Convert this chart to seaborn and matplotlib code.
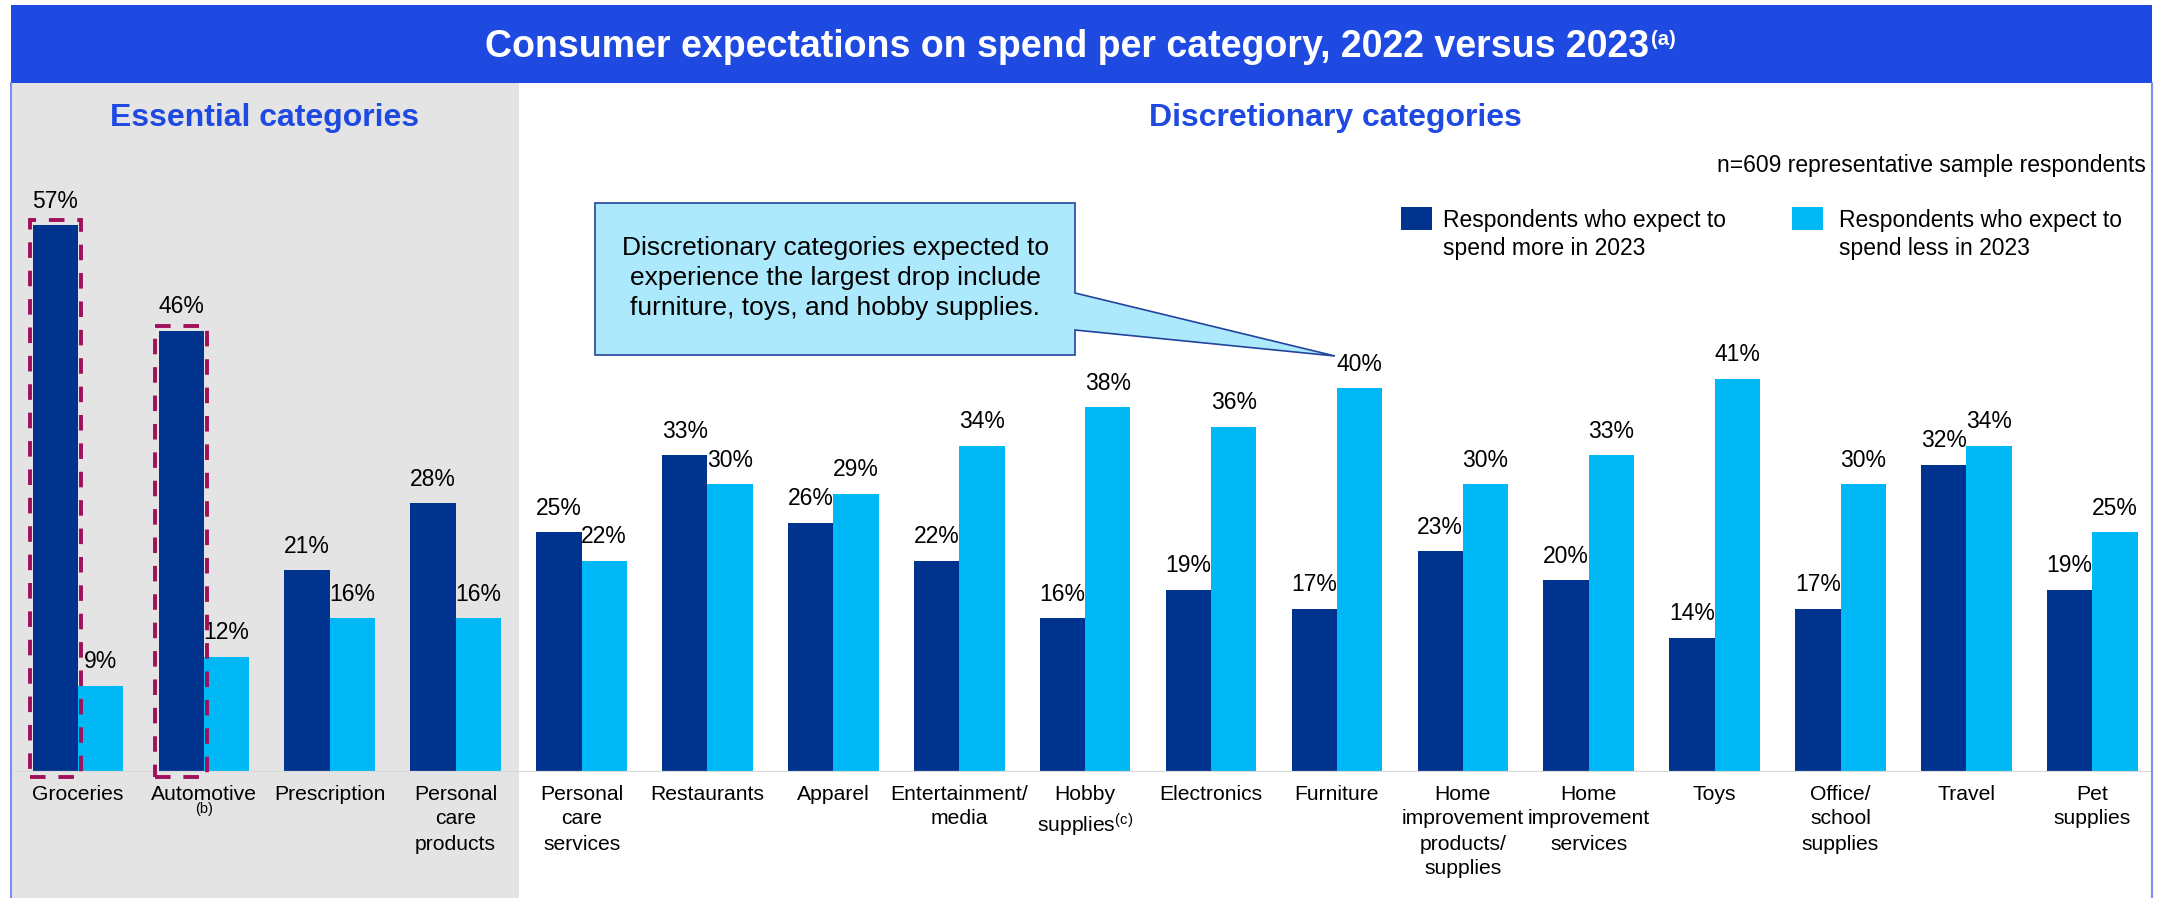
import numpy as np
import pandas as pd
import matplotlib
matplotlib.use("Agg")
import matplotlib.pyplot as plt
import seaborn as sns
from matplotlib.patches import Rectangle, Polygon
from matplotlib.transforms import blended_transform_factory
from matplotlib.lines import Line2D

# ---------------- data ----------------
categories = ["Groceries", "Automotive", "Prescription", "Personal care products",
              "Personal care services", "Restaurants", "Apparel", "Entertainment/media",
              "Hobby supplies", "Electronics", "Furniture",
              "Home improvement products/supplies", "Home improvement services",
              "Toys", "Office/school supplies", "Travel", "Pet supplies"]
tick_labels = ["Groceries", "Automotive", "Prescription", "Personal\ncare\nproducts",
               "Personal\ncare\nservices", "Restaurants", "Apparel", "Entertainment/\nmedia",
               "Hobby\nsupplies$^{\\mathrm{(c)}}$", "Electronics", "Furniture",
               "Home\nimprovement\nproducts/\nsupplies", "Home\nimprovement\nservices",
               "Toys", "Office/\nschool\nsupplies", "Travel", "Pet\nsupplies"]
more_2023 = [57, 46, 21, 28, 25, 33, 26, 22, 16, 19, 17, 23, 20, 14, 17, 32, 19]
less_2023 = [9, 12, 16, 16, 22, 30, 29, 34, 38, 36, 40, 30, 33, 41, 30, 34, 25]
series_names = ["Respondents who expect to\nspend more in 2023",
                "Respondents who expect to\nspend less in 2023"]
n_essential = 4
highlighted = ["Groceries", "Automotive"]
title_main = "Consumer expectations on spend per category, 2022 versus 2023"
title_note = "(a)"
group_titles = ["Essential categories", "Discretionary categories"]
sample_note = "n=609 representative sample respondents"
callout_text = ("Discretionary categories expected to\n"
                "experience the largest drop include\n"
                "furniture, toys, and hobby supplies.")

# ---------------- style ----------------
DARK = "#00338D"
LIGHT = "#00B8F5"
BLUE = "#1F4AE2"
GRAY = "#E4E4E4"
MAROON = "#A0105A"
CALLOUT_FILL = "#ADE9FC"
CALLOUT_EDGE = "#23449E"
BORDER = "#7C8DF2"

sns.set_theme(style="white")
plt.rcParams["font.family"] = ["Liberation Sans", "DejaVu Sans"]
plt.rcParams["mathtext.fontset"] = "custom"
plt.rcParams["mathtext.rm"] = "Liberation Sans"
plt.rcParams["mathtext.bf"] = "Liberation Sans:bold"
plt.rcParams["mathtext.it"] = "Liberation Sans:italic"

W, H = 2158, 898
fig = plt.figure(figsize=(W / 100, H / 100), dpi=100)
fig.patch.set_facecolor("white")


def fx(px):
    return px / W


def fy(py):
    return 1 - py / H


ax = fig.add_axes([fx(11), fy(772), fx(2151) - fx(11), fy(83) - fy(772)])
ax.set_facecolor("white")

df = pd.DataFrame({
    "category": categories * 2,
    "value": more_2023 + less_2023,
    "series": [series_names[0]] * len(categories) + [series_names[1]] * len(categories),
})

sns.barplot(data=df, x="category", y="value", hue="series", order=categories,
            hue_order=series_names, palette=[DARK, LIGHT], width=0.72, gap=0,
            saturation=1, ax=ax, legend=False, linewidth=0, errorbar=None)

xmin, xmax = -0.532, len(categories) - 1 + 0.466
ax.set_xlim(xmin, xmax)
ax.set_ylim(0, 71.8)
for sp in ax.spines.values():
    sp.set_visible(False)
ax.set_yticks([])
ax.set_xlabel("")
ax.set_ylabel("")

# gray "essential" panel, from below the title bar to the bottom of the figure
blend = blended_transform_factory(ax.transData, fig.transFigure)
ax.add_patch(Rectangle((xmin, 0), n_essential - 0.5 - xmin, fy(83), transform=blend,
                       facecolor=GRAY, edgecolor="none", clip_on=False, zorder=0))

# baseline
ax.axhline(0, xmin=(16 - 11) / (2151 - 11), xmax=1, color="#D9D9D9", lw=1.6, zorder=3)

# tick labels
ax.set_xticks(range(len(categories)))
ax.set_xticklabels(tick_labels)
ax.tick_params(axis="x", length=0, pad=9, labelsize=15.2, labelcolor="black")
for lbl in ax.get_xticklabels():
    lbl.set_linespacing(1.4)
ax.text(categories.index("Automotive"), fy(809), "(b)", transform=blend, ha="center",
        va="center", fontsize=10.5, color="black")

# value labels
for cont, vals in zip(ax.containers, [more_2023, less_2023]):
    ax.bar_label(cont, labels=[f"{v}%" for v in vals], padding=9, fontsize=16.5,
                 color="black")

# dashed highlight boxes
for name in highlighted:
    i = categories.index(name)
    bar = ax.containers[0][i]
    ax.add_patch(Rectangle((bar.get_x() - 0.025, -0.5), bar.get_width() + 0.05,
                           bar.get_height() + 1.0, fill=False, edgecolor=MAROON,
                           lw=2.8, linestyle=(0, (4, 3.3)), clip_on=False, zorder=4))

# title bar
fig.patches.append(Rectangle((fx(11), fy(83)), fx(2152) - fx(11), fy(5) - fy(83),
                             transform=fig.transFigure, facecolor=BLUE,
                             edgecolor="none", zorder=1))
renderer = fig.canvas.get_renderer()
t_main = fig.text(0, fy(57), title_main, fontsize=27, fontweight="bold", color="white",
                  va="baseline", ha="left", zorder=2)
t_note = fig.text(0, fy(45), title_note, fontsize=14.5, fontweight="bold", color="white",
                  va="baseline", ha="left", zorder=2)
w1 = t_main.get_window_extent(renderer).width
w2 = t_note.get_window_extent(renderer).width
x0 = 1080 - (w1 + w2 + 2) / 2
t_main.set_x(fx(x0))
t_note.set_x(fx(x0 + w1 + 2))

# side borders
for xb in (11, 2152):
    fig.add_artist(Line2D([fx(xb), fx(xb)], [0, fy(83)], color=BORDER, lw=1.5,
                          transform=fig.transFigure, zorder=6))

# section titles
fig.text(fx(265), fy(118), group_titles[0], fontsize=23, fontweight="bold", color=BLUE,
         ha="center", va="center")
fig.text(fx(1335), fy(118), group_titles[1], fontsize=23, fontweight="bold", color=BLUE,
         ha="center", va="center")
fig.text(fx(2146), fy(165), sample_note, fontsize=16.5, ha="right", va="center",
         color="black")

# legend (manual, to keep square aligned with first text line)
for (sx, col, tx), name in zip([(1401, DARK, 1443), (1792, LIGHT, 1839)], series_names):
    fig.patches.append(Rectangle((fx(sx), fy(230)), fx(31), 23 / H,
                                 transform=fig.transFigure, facecolor=col,
                                 edgecolor="none", zorder=5))
    fig.text(fx(tx), fy(209), name, fontsize=16.5, ha="left", va="top",
             linespacing=1.3, color="black", zorder=5)

# callout
pts = [(595, 203), (1075, 203), (1075, 293), (1335, 356), (1075, 330), (1075, 355),
       (595, 355)]
fig.patches.append(Polygon([(fx(px), fy(py)) for px, py in pts], closed=True,
                           transform=fig.transFigure, facecolor=CALLOUT_FILL,
                           edgecolor=CALLOUT_EDGE, lw=1.2, zorder=5))
fig.text(fx(835), fy(278), callout_text, fontsize=19, ha="center", va="center",
         linespacing=1.29, color="black", zorder=6)

fig.savefig("out.png", dpi=100)
